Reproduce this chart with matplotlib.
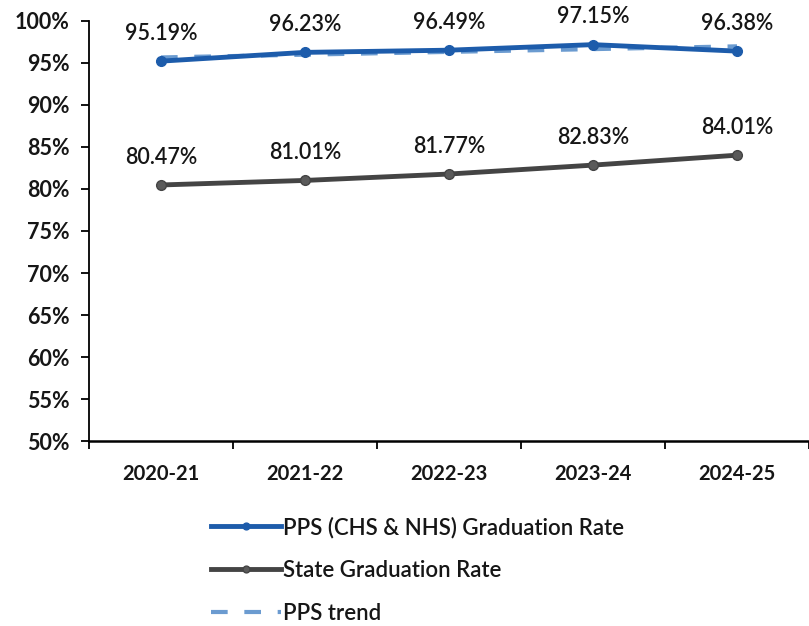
import numpy as np
import matplotlib.pyplot as plt
from matplotlib.ticker import FuncFormatter

plt.rcParams['font.family'] = ['Lato', 'DejaVu Sans']

years = ["2020-21", "2021-22", "2022-23", "2023-24", "2024-25"]
pps_rate = [95.19, 96.23, 96.49, 97.15, 96.38]
state_rate = [80.47, 81.01, 81.77, 82.83, 84.01]

x = np.arange(len(years))
# linear trend through the PPS rates
slope, intercept = np.polyfit(x, pps_rate, 1)
pps_trend = slope * x + intercept

fig = plt.figure(figsize=(8.09, 6.26), dpi=100)
ax = fig.add_axes([0.110, 0.295, 0.890, 0.672])

blue = "#1d5cab"
grey = "#444444"
trend_col = "#6b9bd0"
txt = "#161616"

ax.plot(x, pps_trend, color=trend_col, lw=3, ls=(0, (4, 4)), label="PPS trend", zorder=2)
ax.plot(x, pps_rate, color=blue, lw=3.5, marker="o", ms=7, label="PPS (CHS & NHS) Graduation Rate", zorder=3)
ax.plot(x, state_rate, color=grey, lw=3.5, marker="o", ms=7, mfc="#5a5a5a", label="State Graduation Rate", zorder=3)

for xi, v in zip(x, pps_rate):
    ax.annotate(f"{v:.2f}%", (xi, v), xytext=(0, 20), textcoords="offset points",
                ha="center", va="center", fontsize=15.5, fontweight="semibold", color=txt)
for xi, v in zip(x, state_rate):
    ax.annotate(f"{v:.2f}%", (xi, v), xytext=(0, 20), textcoords="offset points",
                ha="center", va="center", fontsize=15.5, fontweight="semibold", color=txt)

ax.set_xlim(-0.5, len(years) - 0.5)
ax.set_ylim(50, 100)
ax.set_yticks(np.arange(50, 101, 5))
ax.yaxis.set_major_formatter(FuncFormatter(lambda v, p: f"{v:.0f}%"))
ax.set_xticks(x)
ax.set_xticklabels(years)
ax.set_xticks(np.arange(-0.5, len(years), 1), minor=True)
ax.tick_params(axis="x", which="major", length=0, pad=16, labelsize=14.5, labelcolor=txt)
ax.tick_params(axis="x", which="minor", length=6, width=1.3, direction="out")
ax.tick_params(axis="y", length=6, width=1.3, labelsize=15.5, pad=8, labelcolor=txt)
for lbl in ax.get_xticklabels() + ax.get_yticklabels():
    lbl.set_fontweight("bold")

for s in ["top", "right"]:
    ax.spines[s].set_visible(False)
ax.spines["left"].set_linewidth(1.3)
ax.spines["bottom"].set_linewidth(1.8)

h, l = ax.get_legend_handles_labels()
order = [1, 2, 0]
leg = fig.legend([h[i] for i in order], [l[i] for i in order], loc="upper left",
                 bbox_to_anchor=(0.236, 0.207), frameon=False,
                 handlelength=3.15, handletextpad=0.1, labelspacing=0.98,
                 markerscale=0.7, prop={"weight": "semibold", "size": 16})
for t in leg.get_texts():
    t.set_color(txt)

fig.savefig("out.png", dpi=100)
